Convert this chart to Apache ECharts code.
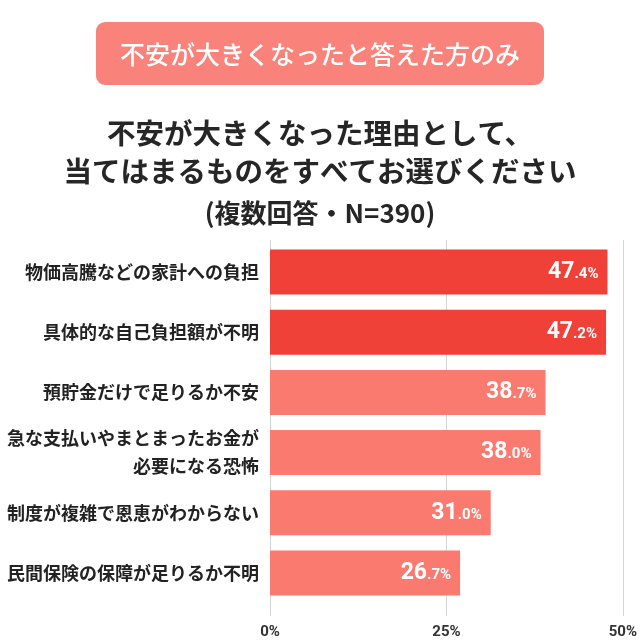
<!DOCTYPE html>
<html><head><meta charset="utf-8">
<script src="https://cdn.jsdelivr.net/npm/echarts@6/dist/echarts.min.js"></script>
<style>html,body{margin:0;padding:0;background:#fff}#c{width:640px;height:640px}</style>
</head><body><div id="c"></div>
<script>
const categories = [
  "物価高騰などの家計への負担",
  "具体的な自己負担額が不明",
  "預貯金だけで足りるか不安",
  "急な支払いやまとまったお金が\n必要になる恐怖",
  "制度が複雑で恩恵がわからない",
  "民間保険の保障が足りるか不明"
];
const values = [47.4, 47.2, 38.7, 38.0, 31.0, 26.7];
const highlightCount = 2;
const xTicks = [0, 25, 50];
const badgeText = "不安が大きくなったと答えた方のみ";
const titleLines = ["不安が大きくなった理由として、", "当てはまるものをすべてお選びください", "(複数回答・N=390)"];

const RED = "#EF4137", SALMON = "#FA7A70", FONT = "'Noto Sans CJK JP', 'Noto Sans', sans-serif";
const chart = echarts.init(document.getElementById('c'), null, {renderer: 'canvas'});
chart.setOption({
  backgroundColor: '#fff',
  animation: false,
  graphic: [
    {type: 'rect', shape: {x: 96, y: 22, width: 448, height: 63, r: 9}, style: {fill: '#F9837B'}},
    {type: 'text', x: 320, y: 54, style: {text: badgeText, fill: '#fff', font: '500 25px ' + FONT, textAlign: 'center', textVerticalAlign: 'middle'}},
    {type: 'text', x: 320, y: 133, style: {text: titleLines[0], fill: '#262626', font: 'bold 28.5px ' + FONT, textAlign: 'center', textVerticalAlign: 'middle'}},
    {type: 'text', x: 320, y: 171, style: {text: titleLines[1], fill: '#262626', font: 'bold 28.5px ' + FONT, textAlign: 'center', textVerticalAlign: 'middle'}},
    {type: 'text', x: 320, y: 213, style: {text: titleLines[2], fill: '#262626', font: 'bold 26px ' + FONT, textAlign: 'center', textVerticalAlign: 'middle'}}
  ],
  grid: [
    {left: 270, right: 14, top: 242, bottom: 37},
    {left: 270, right: 14, top: 240, bottom: 23}
  ],
  xAxis: [
    {type: 'value', gridIndex: 0, min: 0, max: 50, interval: 25, axisLabel: {show: false}, splitLine: {show: false}, axisLine: {show: false}, axisTick: {show: false}},
    {type: 'value', gridIndex: 1, min: 0, max: 50, interval: 25,
     axisLabel: {margin: 9, color: '#333', fontSize: 15, fontWeight: 'bold', fontFamily: 'Roboto, sans-serif', formatter: v => xTicks.includes(v) ? v + '%' : ''},
     splitLine: {show: true, lineStyle: {color: '#D6D6D6', width: 1}}, axisLine: {show: false}, axisTick: {show: false}}
  ],
  yAxis: [
    {type: 'category', gridIndex: 0, data: categories, inverse: true,
     axisLine: {show: false}, axisTick: {show: false},
     axisLabel: {margin: 11, color: '#222', fontSize: 18, fontWeight: 'bold', fontFamily: FONT, lineHeight: 28, align: 'right'}},
    {type: 'category', gridIndex: 1, data: [''], show: false}
  ],
  series: [{
    type: 'bar', xAxisIndex: 0, yAxisIndex: 0,
    data: values.map((v, i) => ({value: v, itemStyle: {color: i < highlightCount ? RED : SALMON}})),
    barWidth: 45,
    label: {
      show: true, position: 'insideRight', distance: 9,
      formatter: p => { const s = p.value.toFixed(1).split('.'); return '{a|' + s[0] + '}{b|.' + s[1] + '%}'; },
      rich: {
        a: {color: '#fff', fontSize: 23, fontWeight: 'bold', fontFamily: 'Roboto, sans-serif'},
        b: {color: '#fff', fontSize: 15, fontWeight: 'bold', fontFamily: 'Roboto, sans-serif', padding: [4, 0, 0, 0]}
      }
    }
  }]
});
</script></body></html>
